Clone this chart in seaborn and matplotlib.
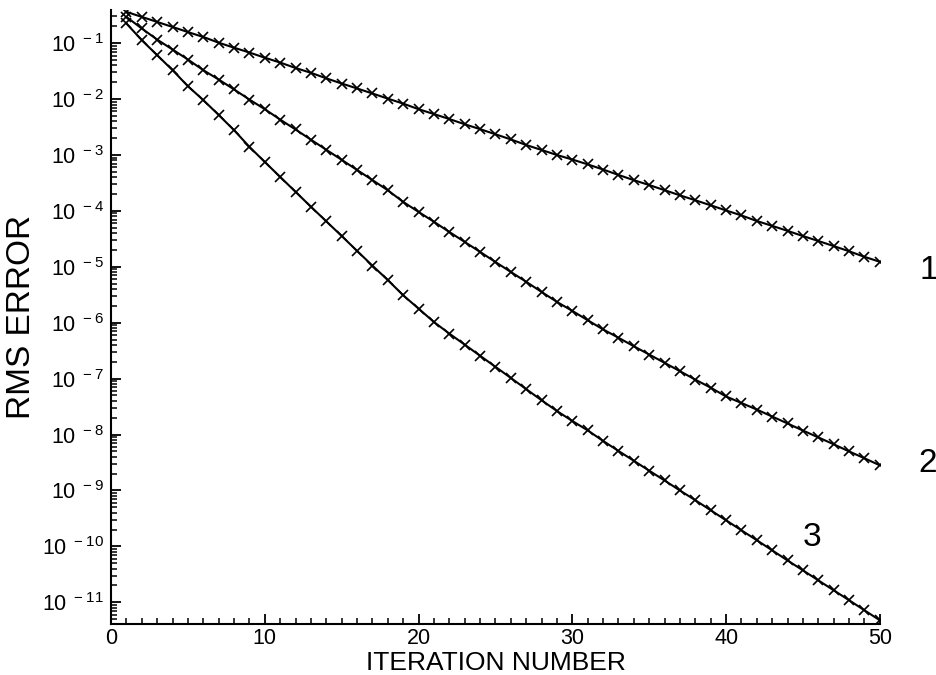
import numpy as np
import pandas as pd
import matplotlib
matplotlib.use("Agg")
import matplotlib.pyplot as plt
from matplotlib.ticker import FixedLocator, FixedFormatter, LogLocator, MultipleLocator, NullFormatter
import seaborn as sns

iterations = list(range(1, 51))

rms_1 = [0.363, 0.295, 0.240, 0.195, 0.158, 0.129, 0.102, 8.3e-2, 6.8e-2, 5.5e-2,
         4.5e-2, 3.6e-2, 2.95e-2, 2.35e-2, 1.9e-2, 1.55e-2, 1.26e-2, 1.02e-2, 8.3e-3, 6.6e-3,
         5.4e-3, 4.4e-3, 3.55e-3, 2.9e-3, 2.35e-3, 1.9e-3, 1.51e-3, 1.23e-3, 1.0e-3, 8.3e-4,
         6.8e-4, 5.5e-4, 4.4e-4, 3.55e-4, 2.9e-4, 2.35e-4, 1.9e-4, 1.55e-4, 1.26e-4, 1.02e-4,
         8.3e-5, 6.6e-5, 5.4e-5, 4.4e-5, 3.55e-5, 2.9e-5, 2.35e-5, 1.9e-5, 1.51e-5, 1.23e-5]

rms_2 = [0.295, 0.183, 0.116, 7.7e-2, 5.1e-2, 3.29e-2, 2.24e-2, 1.49e-2, 9.8e-3, 6.6e-3,
         4.3e-3, 2.86e-3, 1.88e-3, 1.24e-3, 8.2e-4, 5.4e-4, 3.56e-4, 2.34e-4, 1.45e-4, 9.6e-5,
         6.4e-5, 4.2e-5, 2.79e-5, 1.85e-5, 1.22e-5, 8.1e-6, 5.4e-6, 3.56e-6, 2.36e-6, 1.63e-6,
         1.11e-6, 7.6e-7, 5.4e-7, 3.8e-7, 2.70e-7, 1.92e-7, 1.36e-7, 9.6e-8, 6.9e-8, 4.8e-8,
         3.67e-8, 2.80e-8, 2.10e-8, 1.58e-8, 1.18e-8, 8.9e-9, 6.7e-9, 5.0e-9, 3.77e-9, 2.82e-9]

rms_3 = [0.225, 0.113, 6.1e-2, 3.29e-2, 1.70e-2, 9.6e-3, 5.2e-3, 2.78e-3, 1.40e-3, 7.5e-4,
         4.06e-4, 2.19e-4, 1.19e-4, 6.5e-5, 3.56e-5, 1.93e-5, 1.05e-5, 5.8e-6, 3.10e-6, 1.79e-6,
         1.03e-6, 6.4e-7, 4.06e-7, 2.57e-7, 1.63e-7, 1.03e-7, 6.5e-8, 4.11e-8, 2.64e-8, 1.75e-8,
         1.19e-8, 7.7e-9, 5.1e-9, 3.40e-9, 2.26e-9, 1.51e-9, 1.00e-9, 6.7e-10, 4.43e-10, 2.93e-10,
         1.94e-10, 1.29e-10, 8.5e-11, 5.6e-11, 3.73e-11, 2.47e-11, 1.64e-11, 1.09e-11, 7.2e-12, 4.77e-12]

curve_names = ["1", "2", "3"]
label_x = [53.2, 53.1, 45.6]
label_y = [8.7e-6, 3.1e-9, 1.44e-10]

x_ticks = [0, 10, 20, 30, 40, 50]
y_exponents = [-1, -2, -3, -4, -5, -6, -7, -8, -9, -10, -11]

df = pd.DataFrame({
    "iteration": iterations * 3,
    "rms": rms_1 + rms_2 + rms_3,
    "curve": ["1"] * 50 + ["2"] * 50 + ["3"] * 50,
})

sns.set_style("ticks")
plt.rcParams["font.family"] = ["Liberation Sans", "DejaVu Sans"]
plt.rcParams["mathtext.default"] = "regular"
plt.rcParams["text.color"] = "black"
plt.rcParams["axes.labelcolor"] = "black"
plt.rcParams["xtick.color"] = "black"
plt.rcParams["ytick.color"] = "black"

fig = plt.figure(figsize=(9.37, 6.75), dpi=100)
ax = fig.add_axes([0.1185, 0.0756, 0.939 - 0.1185, 0.985 - 0.0756])

sns.lineplot(data=df, x="iteration", y="rms", hue="curve",
             palette=["black", "black", "black"], estimator=None,
             marker="x", markersize=6.5, markeredgewidth=1.2, markeredgecolor="black",
             linewidth=1.5, legend=False, ax=ax)

ax.set_yscale("log")
ax.set_xlim(0, 50)
ax.set_ylim(4.1e-12, 0.39)

sns.despine(ax=ax)
for s in ["left", "bottom"]:
    ax.spines[s].set_linewidth(1.5)
    ax.spines[s].set_color("black")

ax.xaxis.set_major_locator(FixedLocator(x_ticks))
ax.xaxis.set_minor_locator(MultipleLocator(1))
ax.yaxis.set_major_locator(FixedLocator([10.0 ** e for e in y_exponents]))
ax.yaxis.set_major_formatter(FixedFormatter(["10$^{\\ %d}$" % e for e in y_exponents]))
ax.yaxis.set_minor_locator(LogLocator(base=10, subs=np.arange(2, 10), numticks=100))
ax.yaxis.set_minor_formatter(NullFormatter())

ax.tick_params(axis="both", which="major", direction="in", length=7, width=1.3,
               labelsize=15.5, colors="black")
ax.tick_params(axis="both", which="minor", direction="in", length=4.5, width=1.1,
               colors="black")
ax.tick_params(axis="x", which="major", pad=3)
ax.tick_params(axis="y", which="major", pad=5)

ax.set_xlabel("ITERATION NUMBER", fontsize=19, labelpad=1, color="black")
ax.set_ylabel("RMS ERROR", fontsize=24, labelpad=4, color="black")

for name, lx, ly in zip(curve_names, label_x, label_y):
    ax.text(lx, ly, name, fontsize=24, ha="center", va="center", clip_on=False,
            color="black")

fig.savefig("out.png", dpi=100)
